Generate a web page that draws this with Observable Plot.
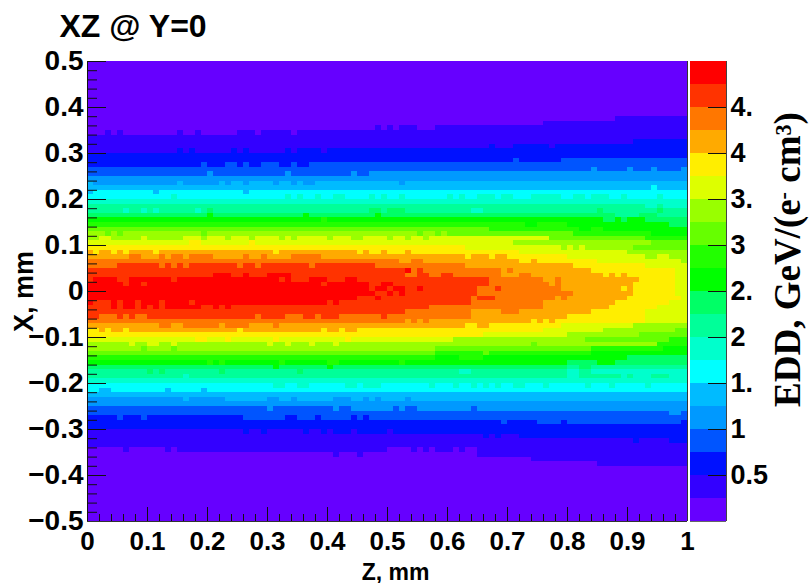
<!DOCTYPE html>
<html><head><meta charset="utf-8">
<style>html,body{margin:0;padding:0;background:#fff}#c{position:relative;width:810px;height:583px;overflow:hidden}#c svg{position:absolute;left:0;top:0;background:transparent}</style>
<script src="https://cdn.jsdelivr.net/npm/d3@7"></script>
<script src="https://cdn.jsdelivr.net/npm/@observablehq/plot@0.6"></script>
</head><body><div id="c"></div>
<script>
const paletteColors = ["#6600ff","#3300ff","#0011ff","#0055ff","#0099ff","#00bbff","#00ffff","#00ffcc","#00ff99","#00ff66","#00ff00","#22ff00","#66ff00","#99ff00","#ddff00","#ffee00","#ffaa00","#ff7700","#ff3300","#ff0000"];
const levelEdges = [0,0.25,0.5,0.75,1,1.25,1.5,1.75,2,2.25,2.5,2.75,3,3.25,3.5,3.75,4,4.25,4.5,4.75,5];
const xMajor = [0,0.1,0.2,0.3,0.4,0.5,0.6,0.7,0.8,0.9,1];
const xMinor = [0.02,0.04,0.06,0.08,0.12,0.14,0.16,0.18,0.22,0.24,0.26,0.28,0.32,0.34,0.36,0.38,0.42,0.44,0.46,0.48,0.52,0.54,0.56,0.58,0.62,0.64,0.66,0.68,0.72,0.74,0.76,0.78,0.82,0.84,0.86,0.88,0.92,0.94,0.96,0.98];
const yMajor = [-0.5,-0.4,-0.3,-0.2,-0.1,0,0.1,0.2,0.3,0.4,0.5];
const yMinor = [-0.48,-0.46,-0.44,-0.42,-0.38,-0.36,-0.34,-0.32,-0.28,-0.26,-0.24,-0.22,-0.18,-0.16,-0.14,-0.12,-0.08,-0.06,-0.04,-0.02,0.02,0.04,0.06,0.08,0.12,0.14,0.16,0.18,0.22,0.24,0.26,0.28,0.32,0.34,0.36,0.38,0.42,0.44,0.46,0.48];
const barTicks = [0.5,1,1.5,2,2.5,3,3.5,4,4.5];
const barTickLabels = ["0.5","1","1.","2","2.","3","3.","4","4."];
// One entry per X bin, top to bottom. Each token: colour level letter (a = lowest) + first Z bin of that run.
const binRows = [
"a0","a0","a0","a0","a0","a0","a0","a0","a0","a0","a0","a0",
"a0 b88",
"a0 b76",
"a0 b48 a49 b50 a51 b52 a55 b58",
"a0 b3 a4 b5 a6 b15 a16 b18 a19 b25 a28 b29 a34 b35",
"b0",
"b0 c91",
"b0 c67 b68 c71 b77 c78",
"b0 c15 b16 c17 b18 c24 b25 c26 b27 c33 b34 c35 b39 c40",
"c0",
"c0 d71 c72 d79",
"c0 d19 c20 d23 c25 d26 c27 d29 c32 d34 c35 d37",
"d0 e84 d85 e90 d91 e94 d95 e99",
"d0 e20 d21 e33 d34 e44 d45 e47",
"e0",
"f0 e1 f15 e16 f22 e23 f24 e26 f27 e31 f32 e34 f35 e36 f38 e52 f53",
"f0 g94 f95",
"f0 g1 f11 g12 f26 g27",
"g0 h14 g15 h33 g34 h35 g36 h38 g39 h41 g43 h47 g48 h49 g50 h52 g53 h60 g61 h62 g63 h65 g68 h69 g71 h74 g79 h81 g83 h84 g87 h89 g90 h95 g96",
"h0",
"i0 h93 i95 h96",
"i0 h6 i7 h9 i10 h11 i12 h18 i19 j20 i21 j47 i49 j50 i53 h64 i66 j85 i86 j95 i96",
"j0 k20 j21 k36 j37 k48 j49 i88 j92 i95",
"k0 l39 k40 j86 k88 j89 k90 j93",
"l0 k73 l75 k80 j97",
"m0 l67 k82 l84 k86",
"n0 m3 n4 m5 n6 m19 n20 m55 n56 m58 n59 m60 l81 k94",
"n0 o2 n4 o9 n10 o16 n19 o20 n23 o24 n27 o28 n32 o33 n34 o35 n40 o41 n44 o46 n50 o51 n53 o54 n56 o57 m77 l93",
"o0 p17 o19 p27 o28 n71 m94",
"p0 o63 n79 o80 n81 o82 n83 m91",
"q0 p1 q2 p4 q5 p6 q7 p11 q12 p31 q32 p45 q46 p47 q49 p50 q53 p54 o72 n90",
"q0 r7 q9 r12 q13 r14 q16 r17 q21 r26 q27 r29 q30 r34 q39 p63 q64 p67 q68 p70 o80 n93 o95 n97",
"r0 q52 r54 q56 p72 q74 p75 o85 n99",
"r0 s5 r12 s13 r14 s15 r16 s17 r25 s26 r28 s29 r37 s38 r48 q63 p81 o93",
"s0 t53 r54 s55 r56 q69 r70 q71 p84 o98",
"s0 t21 s24 t26 s27 t30 s34 r53 s55 r57 s59 r61 q69 r72 q74 p86 q87 p88 q89 p90 o98",
"s0 t1 s5 t7 s14 t15 s32 t33 s34 t37 s40 t43 s45 r67 q76 r78 q79 p92 o98",
"t0 s6 t7 s9 t10 s39 t40 s47 t49 s51 r67 q77 r78 q79 p91 o98",
"t0 s47 t48 s50 t51 s53 t55 s56 r65 s68 r69 q79 p89 q90 p91 o98",
"t0 s48 t50 s51 t52 s53 r65 q81 p91 o98",
"t0 s45 t48 s49 r64 s65 r68 q78 r79 q80 p90 o99",
"t0 s1 t4 s5 t6 s8 t9 s12 t13 s17 t18 s40 t41 s42 r64 q76 p88 o97",
"s0 t4 s5 t6 s8 t9 s10 t11 s12 t13 s19 t21 s22 t23 s24 r57 q76 p87 o95",
"s0 r53 q64 r69 q72 p84 o93",
"s0 r2 s5 r6 s7 r8 s10 r28 s29 r33 s36 r38 s39 r42 s49 r50 q64 p80 o93",
"r0 q53 r54 q55 r56 q57 p74 q75 p76 q77 p78 o93",
"q0 r12 q14 r16 q22 r23 q27 r31 q32 p63 q65 p67 o79 n91",
"p0 q2 p3 q4 p6 q7 p25 q26 p39 q40 p42 q43 p45 o76 n86 m98",
"p0 o66 n80 m92",
"o0 p18 o20 p23 o24 p31 o32 p43 o44 n61 m83 l97",
"n0 o7 n8 o10 n12 o14 n15 o30 n31 o33 n34 o37 n38 o41 n42 m74 n75 l95",
"n0 m9 n10 m14 n15 m58 l84 k96",
"m0 l58 m66 l67 k84",
"l0 k58 l62 k66 j90",
"k0 l20 k21 l22 k23 l32 k33 l40 k42 l52 k53 j80 k85 j88",
"j0 k31 j32 k40 j41 i80 j82 i84",
"i0 j10 i11 j12 i13 j22 i23 j35 i36 h62 i64 h80 i82 h84",
"i0 h16 i17 h80 i82 h89 i90 h91 i94 h97",
"h0",
"g0 h31 g33 h35 g37 h43 g45 h46 g49 h57 g58 h61 g62 h64 g65 h66 g67 h68 g69 h71 g73 h76 g77 h83 g84 h87 g88 h93 g94",
"g0 f2 g4 f13 g14 f19 g20",
"f0",
"e0 f16 e17 f23 e30 f32 e34 f35 e41 f44 e46 f47 e48 f49 e53 f54",
"e0",
"d0 e30 d31 e41 d42 e44 d51 e52 d53 e55 d64 e65",
"d0 e97 d99",
"c0 d5 c6 d9 c10 d26 c33 d35 c38 d39 c44 d45 c46 d47",
"c0 d69 c70 d75 c79 d80 c99",
"c0",
"b0 c26 b27 c29 b30 c36 b37 c39 b40 c41 b44 c45 b50 c51",
"b0 c66 b67 c68 b69 c72",
"b0 c91 b92 c97",
"b0",
"a0 b6 a7 b13 a14 b15 a50 b54 a55 b56 a57 b58 a61 b62 a63 b65",
"a0 b41 a42 b45 a46 b65",
"a0 b74",
"a0 b85",
"a0","a0","a0","a0","a0","a0","a0","a0","a0","a0","a0","a0"
];
const zBins = 100, xBins = 100;

const runs = binRows.flatMap((row, r) => {
  const toks = row.split(" ").map(t => ({level: t.charCodeAt(0) - 97, start: +t.slice(1)}));
  return toks.map((t, i) => ({
    z1: t.start / zBins,
    z2: (i + 1 < toks.length ? toks[i + 1].start : zBins) / zBins,
    x1: 0.5 - r / xBins,
    x2: 0.5 - (r + 1) / xBins,
    edd: (levelEdges[t.level] + levelEdges[t.level + 1]) / 2
  }));
});
const bands = paletteColors.map((_, i) => ({y1: levelEdges[i], y2: levelEdges[i + 1], edd: (levelEdges[i] + levelEdges[i + 1]) / 2}));
const colorScale = {type: "threshold", domain: levelEdges.slice(1, -1), range: paletteColors};
const sans = '"Liberation Sans", Arial, sans-serif';
const fmtY = d => d === 0 ? "0" : (d < 0 ? "\u2212" : "") + Math.abs(d).toFixed(1);
const fmtX = d => (d === 0 || d === 1) ? String(d) : d.toFixed(1);

const main = Plot.plot({
  width: 810, height: 583,
  marginLeft: 87, marginRight: 123, marginTop: 61, marginBottom: 62,
  style: {fontFamily: sans, fontWeight: "bold", color: "#000", background: "transparent", overflow: "visible"},
  x: {domain: [0, 1]},
  y: {domain: [-0.5, 0.5]},
  color: colorScale,
  marks: [
    Plot.rect(runs, {x1: "z1", x2: "z2", y1: "x1", y2: "x2", fill: "edd", shapeRendering: "crispEdges"}),
    Plot.axisX({ticks: xMinor, tickSize: -7, tickFormat: () => "", label: null, stroke: "#111"}),
    Plot.axisX({ticks: xMajor, tickSize: -14, tickPadding: 24, tickFormat: fmtX, label: null, fontSize: 26, stroke: "#111"}),
    Plot.axisY({ticks: yMinor, tickSize: -10, tickFormat: () => "", label: null, stroke: "#111"}),
    Plot.axisY({ticks: yMajor, tickSize: -19, tickPadding: 23, tickFormat: fmtY, label: null, fontSize: 28, stroke: "#111"}),
    Plot.ruleX([0], {stroke: "#111"}),
    Plot.ruleX([1], {stroke: "#333"}),
    Plot.ruleY([-0.5], {stroke: "#333"}),
    Plot.text(["XZ @ Y=0"], {frameAnchor: "top-left", dx: -28, dy: -47, fontSize: 32, textAnchor: "start", lineAnchor: "top"}),
    Plot.text(["Z, mm"], {frameAnchor: "bottom", dx: 8, dy: 58, fontSize: 23, lineAnchor: "bottom"}),
    Plot.text(["X, mm"], {frameAnchor: "left", dx: -63, dy: 0, fontSize: 27, rotate: -90, textAnchor: "middle"})
  ]
});

const bar = Plot.plot({
  width: 810, height: 583,
  marginLeft: 690, marginRight: 84, marginTop: 61, marginBottom: 62,
  style: {fontFamily: sans, fontWeight: "bold", color: "#000", background: "transparent", overflow: "visible"},
  x: {domain: [0, 1], axis: null},
  y: {domain: [0, 5], axis: null},
  color: colorScale,
  marks: [
    Plot.rect(bands, {x1: 0, x2: 1, y1: "y1", y2: "y2", fill: "edd", shapeRendering: "crispEdges"}),
    Plot.axisY({anchor: "right", ticks: barTicks, tickSize: -19, tickPadding: 23, tickFormat: d => barTickLabels[barTicks.indexOf(d)], label: null, fontSize: 27, stroke: "#111"}),
    Plot.ruleX([1], {stroke: "#444"}),
    Plot.ruleY([0], {stroke: "#666"}),
    Plot.text(["EDD, GeV/(e- cm3)"], {frameAnchor: "right", dx: 62, dy: -32, rotate: -90, fontSize: 37, textAnchor: "middle", fontFamily: '"Liberation Serif", "DejaVu Serif", serif', fontWeight: "bold"})
  ]
});
// Raise the "-" and "3" of the unit to superscripts, keeping them as real text.
d3.select(bar).selectAll("text").filter(function () { return this.textContent.startsWith("EDD"); })
  .each(function () {
    const t = d3.select(this);
    t.text(null);
    t.append("tspan").text("EDD, GeV/(e");
    t.append("tspan").attr("dy", "-0.4em").attr("font-size", "0.6em").text("-");
    t.append("tspan").attr("dy", "0.24em").text(" cm");
    t.append("tspan").attr("dy", "-0.4em").attr("font-size", "0.6em").text("3");
    t.append("tspan").attr("dy", "0.24em").text(")");
  });
const c = document.getElementById("c");
c.appendChild(main);
c.appendChild(bar);
</script></body></html>
